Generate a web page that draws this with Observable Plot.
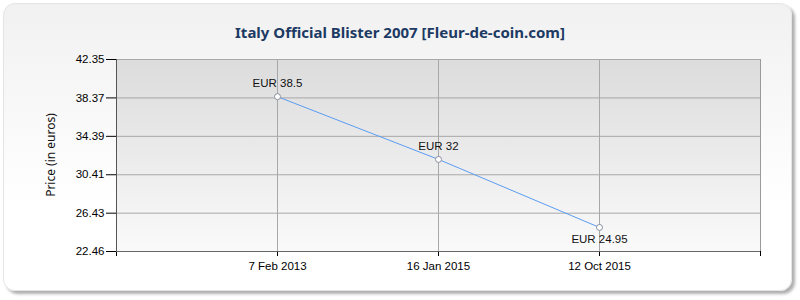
<!DOCTYPE html>
<html><head><meta charset="utf-8">
<script src="https://cdn.jsdelivr.net/npm/d3@7"></script>
<script src="https://cdn.jsdelivr.net/npm/@observablehq/plot@0.6"></script>
<style>
body{margin:0;background:#fff;}
#wrap{position:relative;width:800px;height:300px;overflow:hidden;}
#box{position:absolute;left:3px;top:3px;width:787px;height:286px;border-radius:12px;background:linear-gradient(#f1f1f1,#ffffff 70%);box-shadow:3px 3px 3px #b0b0b0;border:1px solid #e4e4e4;}
#title{position:absolute;left:0;width:800px;top:22px;text-align:center;font:bold 15px "Noto Sans";color:#1c3a63;white-space:nowrap;}
#ylab{position:absolute;left:50px;top:155px;transform:translate(-50%,-50%) rotate(-90deg);font:12px "Noto Sans";color:#111;white-space:nowrap;}
#chart{position:absolute;left:0;top:0;}
</style></head><body>
<div id="wrap"><div id="box"></div><div id="title">Italy Official Blister 2007 [Fleur-de-coin.com]</div><div id="ylab">Price (in euros)</div><div id="chart"></div></div>
<script>
const dates = ["7 Feb 2013", "16 Jan 2015", "12 Oct 2015"];
const prices = [38.5, 32, 24.95];
const priceLabels = ["EUR 38.5", "EUR 32", "EUR 24.95"];
const yTicks = [22.46, 26.43, 30.41, 34.39, 38.37, 42.35];

const data = dates.map((d, i) => ({i: i + 1, date: d, price: prices[i], label: priceLabels[i]}));
const minPrice = d3.min(prices);
const xTicks = d3.range(0, dates.length + 2);

const chart = Plot.plot({
  width: 800, height: 300,
  marginLeft: 116, marginRight: 40, marginTop: 59, marginBottom: 49,
  style: {background: "transparent", fontFamily: "Liberation Sans", fontSize: "11.5px", color: "#000"},
  x: {type: "linear", domain: [0, dates.length + 1]},
  y: {domain: [yTicks[0], yTicks[yTicks.length - 1]]},
  marks: [
    Plot.frame({fill: "url(#plotbg)", stroke: "#9a9a9a"}),
    Plot.gridY(yTicks, {stroke: "#a8a8a8", strokeOpacity: 1}),
    Plot.gridX(d3.range(1, dates.length + 1), {stroke: "#a8a8a8", strokeOpacity: 1}),
    Plot.axisY(yTicks, {tickSize: 10, tickPadding: 2, tickFormat: d => d.toFixed(2), label: null, stroke: "#000"}),
    Plot.axisX(xTicks, {tickSize: 5, tickPadding: 5, tickFormat: i => dates[i - 1] ?? "", label: null, stroke: "#000"}),
    Plot.ruleX([0], {stroke: "#555"}),
    Plot.ruleY([yTicks[0]], {stroke: "#666"}),
    Plot.line(data, {x: "i", y: "price", stroke: "#5b9cf2", strokeWidth: 1}),
    Plot.dot(data, {x: "i", y: "price", r: 3, fill: "#fff", stroke: "#8a90a0", strokeWidth: 1}),
    Plot.text(data, {filter: d => d.price !== minPrice, x: "i", y: "price", text: "label", dy: -13, fill: "#111"}),
    Plot.text(data, {filter: d => d.price === minPrice, x: "i", y: "price", text: "label", dy: 12, fill: "#111"})
  ]
});
const defs = d3.select(chart).insert("defs", ":first-child");
const g = defs.append("linearGradient").attr("id", "plotbg").attr("x1", 0).attr("y1", 0).attr("x2", 0).attr("y2", 1);
g.append("stop").attr("offset", "0%").attr("stop-color", "#dcdcdc");
g.append("stop").attr("offset", "100%").attr("stop-color", "#fafafa");
document.getElementById("chart").appendChild(chart);
</script>
</body></html>
